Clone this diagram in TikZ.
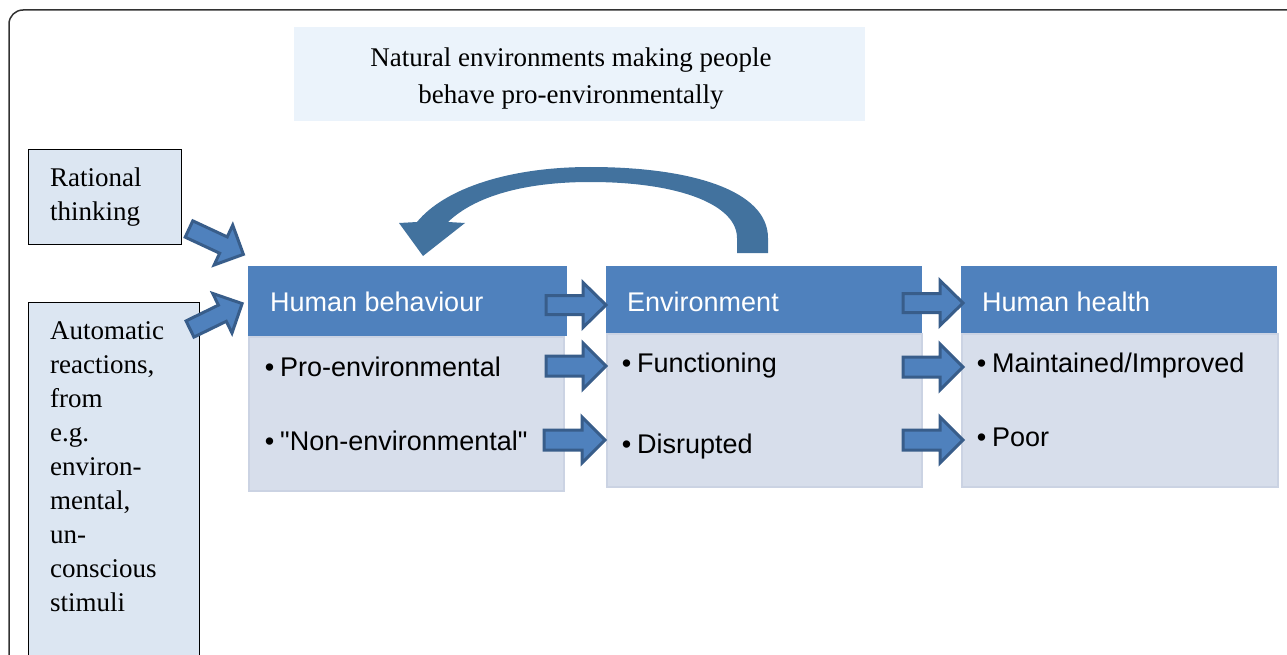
\documentclass[tikz,border=0pt]{standalone}
\usepackage{fontspec}
\setmainfont{Liberation Serif}
\newfontfamily\arialf{Liberation Sans}[Ligatures=TeXOff]
\definecolor{hdrblue}{RGB}{79,129,189}
\definecolor{arrline}{RGB}{56,93,138}
\definecolor{curvblue}{RGB}{66,114,158}
\definecolor{bodyfill}{RGB}{215,222,235}
\definecolor{bodyline}{RGB}{203,211,227}
\definecolor{sidefill}{RGB}{220,230,242}
\definecolor{titlefill}{RGB}{235,243,251}
\definecolor{framecol}{RGB}{50,50,50}
\newcommand{\myst}{\rule{0pt}{20pt}}
\newcommand{\blockarr}[7]{%
  \draw[barrowstyle, shift={(#1,#2)}, rotate=#3]
    (0,-#6) -- ({#4-#5},-#6) -- ({#4-#5},-#7) -- (#4,0) -- ({#4-#5},#7) -- ({#4-#5},#6) -- (0,#6) -- cycle;}
\tikzset{
  hdr/.style={fill=hdrblue, draw=none, inner sep=0pt, anchor=north west},
  bodybox/.style={fill=bodyfill, draw=bodyline, line width=1.5pt, inner sep=0pt, anchor=north west},
  sidebox/.style={fill=sidefill, draw=black, line width=1.3pt, inner sep=0pt, anchor=north west},
  barrowstyle/.style={fill=hdrblue, draw=arrline, line width=3pt, line join=miter},
  seriftext/.style={font=\fontsize{27}{34}\selectfont, inner sep=0pt, align=left, anchor=north west},
  sanstext/.style={font=\arialf\fontsize{27}{32}\selectfont, inner sep=0pt, anchor=base west},
}
\begin{document}
\begin{tikzpicture}[x=1pt,y=-1pt]
\useasboundingbox (0,0) rectangle (1287,655);
% outer frame
\draw[framecol, line width=1.5pt, rounded corners=14pt] (1300,10) -- (9,10) -- (9,680);
% title
\node[fill=titlefill, inner sep=0pt, minimum width=571, minimum height=94, anchor=north west] (titlebox) at (294,27) {};
\node[font=\fontsize{27}{37}\selectfont, inner sep=0pt, align=center, anchor=north] (titletext) at (571,46)
  {\myst Natural environments making people\\ behave pro-environmentally};
% side boxes
\node[sidebox, minimum width=153, minimum height=95] (rational) at (28,149) {};
\node[seriftext] (rationaltext) at (50,166) {\myst Rational\\ thinking};
\node[sidebox, minimum width=171, minimum height=380] (automatic) at (28,302) {};
\node[seriftext] (automatictext) at (50,319) {\myst Automatic\\ reactions,\\ from\\ e.g.\\ environ-\\ mental,\\ un-\\ conscious\\ stimuli};
% columns
\node[bodybox, minimum width=315, minimum height=154] (body1) at (248,336) {};
\node[hdr, minimum width=319, minimum height=70] (hdr1) at (248,266) {};
\node[bodybox, minimum width=315, minimum height=153] (body2) at (606,333) {};
\node[hdr, minimum width=316, minimum height=67] (hdr2) at (606,266) {};
\node[bodybox, minimum width=316, minimum height=153] (body3) at (961,333) {};
\node[hdr, minimum width=316, minimum height=67] (hdr3) at (961,266) {};
\node[sanstext, text=white] (hdr1text) at (270,311) {Human behaviour};
\node[sanstext, text=white] (hdr2text) at (627,311) {Environment};
\node[sanstext, text=white] (hdr3text) at (982,311) {Human health};
\node[sanstext] (b11) at (280,376) {\llap{•\hspace{6pt}}Pro-environmental};
\node[sanstext] (b12) at (280,450) {\llap{•\hspace{6pt}}"Non-environmental"};
\node[sanstext] (b21) at (637,372) {\llap{•\hspace{6pt}}Functioning};
\node[sanstext] (b22) at (637,453) {\llap{•\hspace{6pt}}Disrupted};
\node[sanstext] (b31) at (992,372) {\llap{•\hspace{6pt}}Maintained/Improved};
\node[sanstext] (b32) at (992,446) {\llap{•\hspace{6pt}}Poor};
% block arrows
\blockarr{189}{229}{-25}{60}{22}{9}{22}
\blockarr{190}{329}{26}{58}{22}{9}{22}
\blockarr{546}{305}{0}{60}{23}{9.5}{22.5}
\blockarr{546}{366}{0}{60}{23}{10}{23}
\blockarr{544}{440}{0}{61}{23}{10}{23}
\blockarr{903}{303}{0}{60}{23}{9.5}{22.5}
\blockarr{903}{367}{0}{60}{23}{10}{23}
\blockarr{903}{440}{0}{60}{23}{10}{23}
% curved feedback arrow
\fill[curvblue] (768,253) -- (768,238) .. controls (768,190) and (690,167) .. (590,167)
  .. controls (510,167) and (445,188) .. (417,222) -- (399,223) -- (423,256) -- (465,223) -- (448,222)
  .. controls (475,196) and (525,182) .. (590,182) .. controls (680,182) and (737,205) .. (737,238)
  -- (737,253) -- cycle;
\end{tikzpicture}
\end{document}
